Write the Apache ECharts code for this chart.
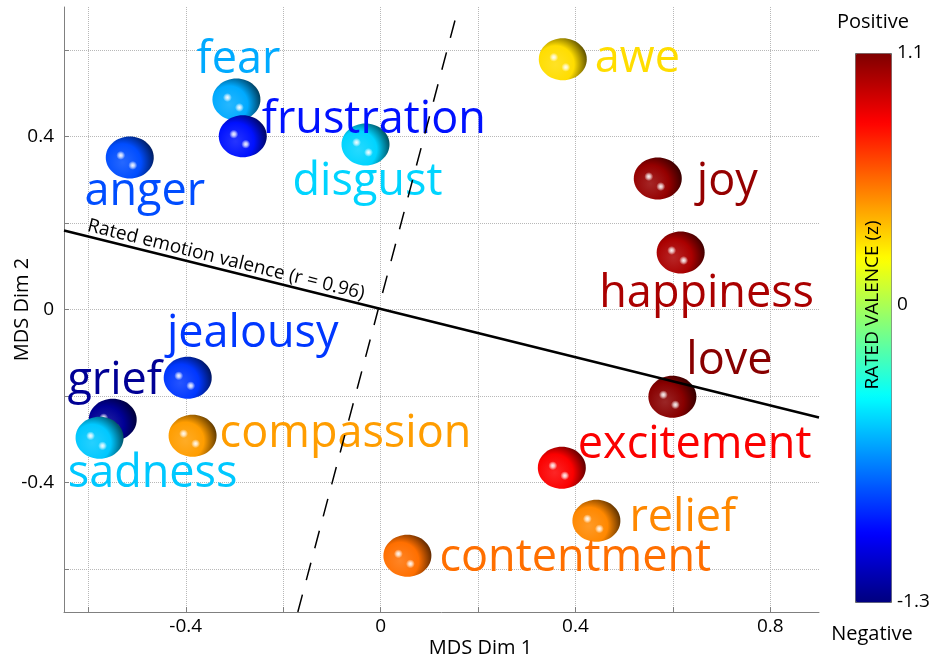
<!DOCTYPE html>
<html>
<head>
<meta charset="utf-8">
<title>MDS emotions</title>
<script src="https://cdn.jsdelivr.net/npm/echarts@6/dist/echarts.min.js"></script>
<style>
  html, body { margin: 0; padding: 0; background: #fff; }
  #main { width: 937px; height: 662px; }
</style>
</head>
<body>
<div id="main"></div>
<script>
// emotions, MDS coordinates and rated valence (z)
var emotions = ['grief', 'sadness', 'jealousy', 'compassion', 'anger', 'fear', 'frustration', 'disgust',
                'awe', 'joy', 'happiness', 'love', 'excitement', 'relief', 'contentment'];
var dim1 = [-0.550, -0.577, -0.396, -0.386, -0.515, -0.296, -0.283, -0.031,
            0.374, 0.569, 0.616, 0.599, 0.372, 0.443, 0.055];
var dim2 = [-0.255, -0.297, -0.158, -0.292, 0.352, 0.486, 0.401, 0.382,
            0.579, 0.303, 0.132, -0.202, -0.366, -0.489, -0.570];
var valence = [-1.25, -0.53, -0.87, 0.43, -0.82, -0.60, -0.96, -0.50,
               0.28, 1.05, 1.00, 1.08, 0.81, 0.48, 0.54];

// fitted lines
var regLine = [[-0.65, 0.183], [0.9, -0.25]];
var dashLine = [[-0.17, -0.7], [0.16, 0.7]];

// ticks
var xTicks = [-0.6, -0.4, -0.2, 0, 0.2, 0.4, 0.6, 0.8];
var xLabels = [-0.4, 0, 0.4, 0.8];
var yTicks = [-0.6, -0.4, -0.2, 0, 0.2, 0.4, 0.6];
var yLabels = [-0.4, 0, 0.4];
var barLabels = [-1.3, 0, 1.1];
var vMin = -1.3, vMax = 1.1;

// label placement: align, dx, dy to baseline (px, from sphere center)
var labelLayout = {
  fear: ['center', 2, -26],
  frustration: ['left', 19, -3],
  anger: ['center', 15, 48],
  disgust: ['center', 2, 51],
  awe: ['left', 32, 13],
  joy: ['left', 39, 17],
  happiness: ['center', 26, 55],
  love: ['center', 57, -22],
  excitement: ['left', 16, -9],
  relief: ['left', 33, 11],
  contentment: ['left', 32, 16],
  compassion: ['left', 27, 12],
  jealousy: ['center', 65, -30],
  grief: ['center', 2, -25],
  sadness: ['center', 53, 50]
};
var LABEL_SIZE = 45;
var FONT = '"Open Sans", "Noto Sans", sans-serif';

var jetStops = ['#00007F', '#0000FF', '#007FFF', '#00FFFF', '#7FFF7F', '#FFFF00', '#FF7F00', '#FF0000', '#7F0000'];

function jet(v) {
  var t = Math.max(0, Math.min(1, (v - vMin) / (vMax - vMin)));
  function f(x) { return Math.max(0, Math.min(1, 1.5 - Math.abs(4 * t - x))); }
  return [f(3), f(2), f(1)].map(function (c) { return Math.round(c * 255); });
}
function mix(c, d, k) {
  return c.map(function (x, i) { return Math.round(x + (d[i] - x) * k); });
}
function rgb(c) { return 'rgb(' + c.join(',') + ')'; }

var points = emotions.map(function (n, i) { return [dim1[i], dim2[i], valence[i], n]; });

function renderSphere(params, api) {
  var p = api.coord([api.value(0), api.value(1)]);
  var c = jet(api.value(2));
  var spot = {
    type: 'radial', x: 0.5, y: 0.5, r: 0.5,
    colorStops: [{ offset: 0, color: 'rgba(255,255,255,0.95)' }, { offset: 0.4, color: 'rgba(255,255,255,0.7)' }, { offset: 1, color: 'rgba(255,255,255,0)' }]
  };
  return {
    type: 'group',
    children: [
      {
        type: 'ellipse',
        shape: { cx: p[0], cy: p[1], rx: 24, ry: 21 },
        style: {
          fill: {
            type: 'radial', x: 0.35, y: 0.62, r: 0.8,
            colorStops: [
              { offset: 0, color: rgb(mix(c, [255, 255, 255], 0.15)) },
              { offset: 0.55, color: rgb(c) },
              { offset: 1, color: rgb(mix(c, [0, 0, 0], 0.7)) }
            ]
          }
        }
      },
      { type: 'circle', shape: { cx: p[0] - 9, cy: p[1] - 2, r: 4.5 }, style: { fill: spot } },
      { type: 'circle', shape: { cx: p[0] + 3, cy: p[1] + 8, r: 4.5 }, style: { fill: spot } }
    ]
  };
}

function renderLabel(params, api) {
  var p = api.coord([api.value(0), api.value(1)]);
  var name = emotions[params.dataIndex];
  var lay = labelLayout[name];
  return {
    type: 'text',
    x: p[0] + lay[1],
    y: p[1] + lay[2] - 0.3 * LABEL_SIZE,
    style: {
      text: name,
      fill: rgb(jet(api.value(2))),
      font: LABEL_SIZE + 'px ' + FONT,
      align: lay[0],
      verticalAlign: 'middle'
    }
  };
}

var myChart = echarts.init(document.getElementById('main'));

var option = {
  animation: false,
  textStyle: { fontFamily: FONT },
  grid: [
    { left: 64, right: 118, top: 7, bottom: 50, containLabel: false, outerBoundsMode: 'none' },
    { left: 855, top: 53, width: 36, height: 549, containLabel: false, outerBoundsMode: 'none' }
  ],
  xAxis: [
    {
      type: 'value', min: -0.65, max: 0.9,
      name: 'MDS Dim 1', nameLocation: 'middle', nameGap: 26, nameMoveOverlap: false,
      nameTextStyle: { fontSize: 20, color: '#000', padding: [0, 0, 0, 78] },
      axisLine: { onZero: false, lineStyle: { color: '#808080' } },
      axisTick: { inside: true, length: 5, customValues: xTicks, lineStyle: { color: '#808080' } },
      axisLabel: { customValues: xLabels, fontSize: 19, color: '#000', margin: 5 },
      splitLine: { show: true, lineStyle: { type: 'dotted', color: '#b8b8b8' } }
    },
    { gridIndex: 1, type: 'value', show: false }
  ],
  yAxis: [
    {
      type: 'value', min: -0.7, max: 0.7,
      name: 'MDS Dim 2', nameLocation: 'middle', nameGap: 32, nameMoveOverlap: false,
      nameTextStyle: { fontSize: 20, color: '#000' },
      axisLine: { onZero: false, lineStyle: { color: '#808080' } },
      axisTick: { inside: true, length: 5, customValues: yTicks, lineStyle: { color: '#808080' } },
      axisLabel: { customValues: yLabels, fontSize: 19, color: '#000', margin: 10 },
      splitLine: { show: true, lineStyle: { type: 'dotted', color: '#b8b8b8' } }
    },
    {
      gridIndex: 1, type: 'value', min: vMin, max: vMax, position: 'right',
      axisLine: { show: false }, axisTick: { show: false }, splitLine: { show: false },
      axisLabel: { customValues: barLabels, fontSize: 19, color: '#000', margin: 6,
        formatter: function (v) { return String(Math.round(v * 10) / 10); } }
    }
  ],
  visualMap: {
    type: 'continuous', min: vMin, max: vMax, seriesIndex: [],
    left: 855, top: 53, itemWidth: 36, itemHeight: 549, padding: 0,
    calculable: false, hoverLink: false,
    borderColor: '#666', borderWidth: 1,
    inRange: { color: jetStops }
  },
  graphic: [
    { type: 'text', x: 873, y: 22, z: 10, style: { text: 'Positive', font: '20px ' + FONT, fill: '#000', align: 'center', verticalAlign: 'middle' } },
    { type: 'text', x: 872, y: 634, z: 10, style: { text: 'Negative', font: '20px ' + FONT, fill: '#000', align: 'center', verticalAlign: 'middle' } },
    { type: 'text', x: 873, y: 305, z: 10, rotation: Math.PI / 2, style: { text: 'RATED VALENCE (z)', font: '19px ' + FONT, fill: '#000', align: 'center', verticalAlign: 'middle' } }
  ],
  series: [
    { type: 'custom', renderItem: renderSphere, data: points, encode: { x: 0, y: 1 }, clip: false },
    { type: 'custom', renderItem: renderLabel, data: points, encode: { x: 0, y: 1 }, clip: false },
    {
      type: 'line', data: dashLine, symbol: 'none', silent: true,
      lineStyle: { color: '#000', width: 1.5, type: [18, 15] }
    },
    {
      type: 'line', data: regLine, symbol: 'none', silent: true,
      lineStyle: { color: '#000', width: 2.5 },
      markLine: {
        silent: true, symbol: 'none',
        lineStyle: { color: 'rgba(0,0,0,0)', width: 1 },
        label: { show: true, position: 'insideStartTop', formatter: 'Rated emotion valence (r = 0.96)', fontSize: 19, color: '#000', distance: [22, 1] },
        data: [[{ coord: regLine[0] }, { coord: regLine[1] }]]
      }
    }
  ]
};

myChart.setOption(option);
</script>
</body>
</html>
